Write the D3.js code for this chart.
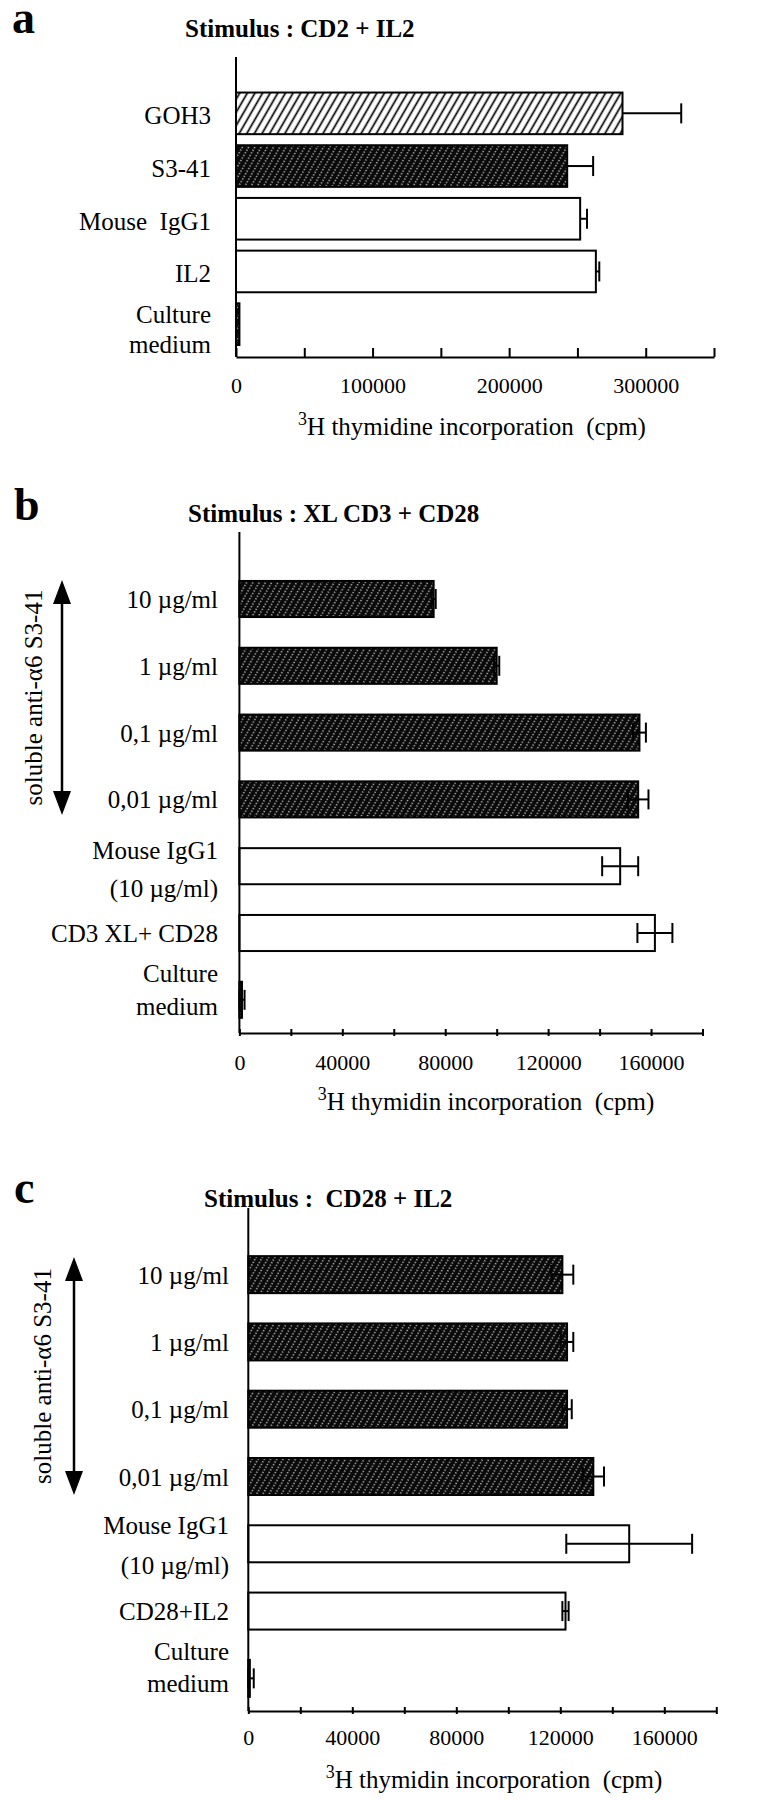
<!DOCTYPE html>
<html>
<head>
<meta charset="utf-8">
<script src="https://cdn.jsdelivr.net/npm/d3@7"></script>
<style>
  body { margin: 0; background: #fff; }
  svg { display: block; font-family: "Liberation Serif", "Times New Roman", serif; }
  text { white-space: pre; }
</style>
</head>
<body>
<svg id="fig" width="784" height="1800"></svg>
<script>
// ---- panel a : stimulus CD2 + IL2
const catsA = ["GOH3", "S3-41", "Mouse  IgG1", "IL2", "Culture\nmedium"];
const valsA = [283000, 242500, 252000, 263500, 2500];
const errsA = [43000, 19000, 5000, 2500, 0];
const ticksA = [0, 50000, 100000, 150000, 200000, 250000, 300000, 350000];
const tickLabelsA = [0, 100000, 200000, 300000];

// ---- panel b : stimulus XL CD3 + CD28
const catsB = ["10 µg/ml", "1 µg/ml", "0,1 µg/ml", "0,01 µg/ml", "Mouse IgG1\n(10 µg/ml)", "CD3 XL+ CD28", "Culture\nmedium"];
const valsB = [75500, 100000, 155500, 155000, 148000, 161500, 1000];
const errsB = [800, 1000, 2500, 4000, 7000, 6800, 1000];

// ---- panel c : stimulus CD28 + IL2
const catsC = ["10 µg/ml", "1 µg/ml", "0,1 µg/ml", "0,01 µg/ml", "Mouse IgG1\n(10 µg/ml)", "CD28+IL2", "Culture\nmedium"];
const valsC = [120800, 122600, 122600, 132700, 146500, 122000, 600];
const errsC = [4200, 2400, 1800, 4100, 24200, 1200, 1500];

const ticksBC = [0, 20000, 40000, 60000, 80000, 100000, 120000, 140000, 160000, 180000];
const tickLabelsBC = [0, 40000, 80000, 120000, 160000];

const svg = d3.select('#fig');

// fill patterns
const defs = svg.append('defs');
const hatch = defs.append('pattern').attr('id', 'hatch')
  .attr('patternUnits', 'userSpaceOnUse').attr('width', 6.6).attr('height', 10)
  .attr('patternTransform', 'rotate(30)');
hatch.append('rect').attr('width', 6.6).attr('height', 10).attr('fill', '#fff');
hatch.append('line').attr('x1', 3.3).attr('x2', 3.3).attr('y1', 0).attr('y2', 10)
  .attr('stroke', '#000').attr('stroke-width', 1.7);

const dark = defs.append('pattern').attr('id', 'dark')
  .attr('patternUnits', 'userSpaceOnUse').attr('width', 5.4).attr('height', 6)
  .attr('patternTransform', 'rotate(30)');
dark.append('rect').attr('width', 5.4).attr('height', 6).attr('fill', '#0a0a0a');
dark.append('line').attr('x1', 2.7).attr('x2', 2.7).attr('y1', 0).attr('y2', 6)
  .attr('stroke', '#fff').attr('stroke-width', 1.1).attr('stroke-dasharray', '1.3 1.7');

const fillOf = { hatch: 'url(#hatch)', dark: 'url(#dark)', white: '#fff' };

function drawPanel(p) {
  const g = svg.append('g');

  const x = d3.scaleLinear().domain([0, p.xMax]).range([p.x0, p.x1]);
  const y = d3.scaleBand().domain(p.cats).range([p.yTop, p.yBottom])
    .paddingInner(p.pad).paddingOuter(p.pad / 2);

  // panel letter + title
  g.append('text').attr('x', p.letterX).attr('y', p.letterY)
    .attr('font-size', 46).attr('font-weight', 'bold').text(p.letter);
  g.append('text').attr('x', p.titleX).attr('y', p.titleY)
    .attr('font-size', 25).attr('font-weight', 'bold').text(p.title);

  // bars
  g.selectAll('rect.bar').data(p.cats).join('rect')
    .attr('class', 'bar')
    .attr('x', x(0))
    .attr('y', d => y(d))
    .attr('width', (d, i) => x(p.vals[i]) - x(0))
    .attr('height', y.bandwidth())
    .attr('fill', (d, i) => fillOf[p.fills[i]])
    .attr('stroke', '#000').attr('stroke-width', 2);

  // error bars (panel a only shows the upper half)
  const cap = 10;
  p.cats.forEach((c, i) => {
    if (!p.errs[i]) return;
    const cy = y(c) + y.bandwidth() / 2;
    const hi = x(p.vals[i] + p.errs[i]);
    const lo = p.twoSided ? x(Math.max(0, p.vals[i] - p.errs[i])) : x(p.vals[i]);
    g.append('line').attr('x1', lo).attr('x2', hi).attr('y1', cy).attr('y2', cy)
      .attr('stroke', '#000').attr('stroke-width', 2);
    g.append('line').attr('x1', hi).attr('x2', hi).attr('y1', cy - cap).attr('y2', cy + cap)
      .attr('stroke', '#000').attr('stroke-width', 2);
    if (p.twoSided) {
      g.append('line').attr('x1', lo).attr('x2', lo).attr('y1', cy - cap).attr('y2', cy + cap)
        .attr('stroke', '#000').attr('stroke-width', 2);
    }
  });

  // category labels
  p.cats.forEach((c, i) => {
    const cy = y(c) + y.bandwidth() / 2;
    const lines = c.split('\n');
    const dys = lines.length > 1 ? p.twoLineDy[lines[0].split(' ')[0]] : [p.oneLineDy];
    lines.forEach((t, k) => {
      g.append('text').attr('x', p.labelX).attr('y', cy + dys[k])
        .attr('text-anchor', 'end').attr('font-size', 25).text(t);
    });
  });

  // vertical axis line
  g.append('line').attr('x1', x(0)).attr('x2', x(0)).attr('y1', p.axisTop).attr('y2', p.axisY)
    .attr('stroke', '#000').attr('stroke-width', 2);

  // horizontal axis
  const axis = d3.axisBottom(x)
    .tickValues(p.ticks)
    .tickFormat(d => p.tickLabels.includes(d) ? d : '')
    .tickSizeOuter(0)
    .tickSizeInner(p.tickDown);
  const ax = g.append('g').attr('transform', `translate(0,${p.axisY})`).call(axis);
  ax.attr('font-family', null).attr('font-size', null);
  ax.select('.domain').attr('stroke', '#000').attr('stroke-width', 2);
  ax.selectAll('.tick line').attr('y1', -p.tickUp).attr('y2', p.tickDown)
    .attr('stroke', '#000').attr('stroke-width', 2);
  ax.selectAll('.tick text').attr('y', p.tickTextDy).attr('dy', 0)
    .attr('font-size', p.tickFont).attr('fill', '#000');

  // axis title with superscript 3
  const t = g.append('text').attr('x', p.xTitleX).attr('y', p.xTitleY)
    .attr('text-anchor', 'middle').attr('font-size', 25);
  t.append('tspan').attr('font-size', 18).attr('dy', -10).text('3');
  t.append('tspan').attr('dy', 10).text(p.xTitle);

  // rotated label with double arrow for the antibody doses
  if (p.arrow) {
    const a = p.arrow;
    const head = 24, hw = 9;
    g.append('line').attr('x1', a.x).attr('x2', a.x).attr('y1', a.top + head - 2).attr('y2', a.bottom - head + 2)
      .attr('stroke', '#000').attr('stroke-width', 2.5);
    g.append('path').attr('d', `M${a.x},${a.top} L${a.x - hw},${a.top + head} L${a.x + hw},${a.top + head}Z`);
    g.append('path').attr('d', `M${a.x},${a.bottom} L${a.x - hw},${a.bottom - head} L${a.x + hw},${a.bottom - head}Z`);
    g.append('text')
      .attr('transform', `translate(${a.textX},${(a.top + a.bottom) / 2}) rotate(-90)`)
      .attr('text-anchor', 'middle').attr('dy', '0.35em').attr('font-size', 25)
      .text('soluble anti-α6 S3-41');
  }
}

drawPanel({
  letter: 'a', letterX: 12, letterY: 33,
  title: 'Stimulus : CD2 + IL2', titleX: 185, titleY: 37,
  cats: catsA, vals: valsA, errs: errsA, twoSided: false,
  fills: ['hatch', 'dark', 'white', 'white', 'dark'],
  xMax: 350000, x0: 236, x1: 714,
  yTop: 87, yBottom: 350.5, pad: 0.21,
  axisTop: 57, axisY: 357,
  ticks: ticksA, tickLabels: tickLabelsA, tickUp: 9, tickDown: 0, tickTextDy: 36, tickFont: 22,
  labelX: 211, oneLineDy: 11, twoLineDy: { Culture: [-1, 29] },
  xTitle: 'H thymidine incorporation  (cpm)', xTitleX: 472, xTitleY: 435
});

drawPanel({
  letter: 'b', letterX: 14, letterY: 520,
  title: 'Stimulus : XL CD3 + CD28', titleX: 188, titleY: 522,
  cats: catsB, vals: valsB, errs: errsB, twoSided: true,
  fills: ['dark', 'dark', 'dark', 'dark', 'white', 'white', 'dark'],
  xMax: 180000, x0: 239.4, x1: 702.5,
  yTop: 565.6, yBottom: 1033.2, pad: 0.46,
  axisTop: 532, axisY: 1033,
  ticks: ticksBC, tickLabels: tickLabelsBC, tickUp: 4, tickDown: 3, tickTextDy: 37, tickFont: 22,
  labelX: 218, oneLineDy: 9, twoLineDy: { Mouse: [-7, 31], Culture: [-18, 15] },
  xTitle: 'H thymidin incorporation  (cpm)', xTitleX: 486, xTitleY: 1110,
  arrow: { x: 62, top: 580, bottom: 815, textX: 33 }
});

drawPanel({
  letter: 'c', letterX: 14, letterY: 1203,
  title: 'Stimulus :  CD28 + IL2', titleX: 204, titleY: 1207,
  cats: catsC, vals: valsC, errs: errsC, twoSided: true,
  fills: ['dark', 'dark', 'dark', 'dark', 'white', 'white', 'dark'],
  xMax: 180000, x0: 248.3, x1: 716.3,
  yTop: 1241, yBottom: 1712, pad: 0.45,
  axisTop: 1208, axisY: 1711,
  ticks: ticksBC, tickLabels: tickLabelsBC, tickUp: 4, tickDown: 3, tickTextDy: 34, tickFont: 22,
  labelX: 229, oneLineDy: 9, twoLineDy: { Mouse: [-10, 30], Culture: [-18, 14] },
  xTitle: 'H thymidin incorporation  (cpm)', xTitleX: 494, xTitleY: 1788,
  arrow: { x: 74, top: 1257, bottom: 1495, textX: 42 }
});
</script>
</body>
</html>
